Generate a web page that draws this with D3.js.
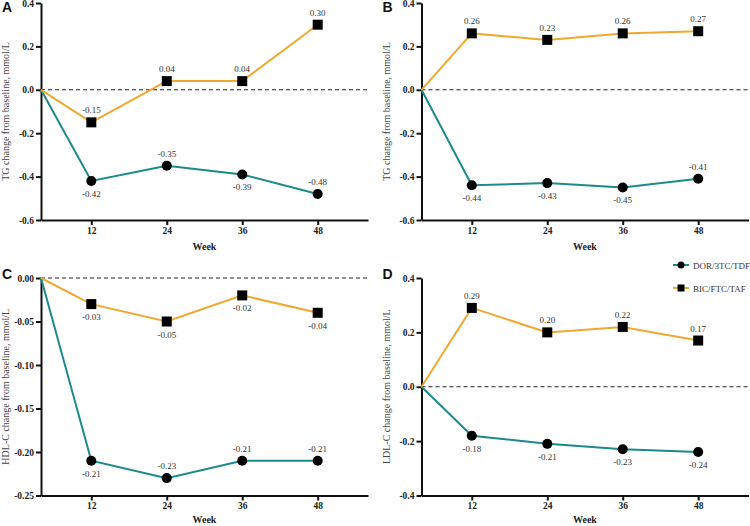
<!DOCTYPE html>
<html>
<head>
<meta charset="utf-8">
<script src="https://cdn.jsdelivr.net/npm/d3@7"></script>
<style>
  body { margin: 0; background: #fff; }
  svg { display: block; }
</style>
</head>
<body>
<div id="chart"></div>
<script>
const weeks = [0, 12, 24, 36, 48]
const tickWeeks = [12, 24, 36, 48]
const seriesNames = ['DOR/3TC/TDF', 'BIC/FTC/TAF']

const panelLetters = ['A', 'B', 'C', 'D']
const yTitles = [
  'TG change from baseline, mmol/L',
  'TG change from baseline, mmol/L',
  'HDL-C change from baseline, mmol/L',
  'LDL-C change from baseline, mmol/L'
]
const yDomains = [[-0.6, 0.4], [-0.6, 0.4], [-0.25, 0], [-0.4, 0.4]]
const yTicks = [
  [-0.6, -0.4, -0.2, 0, 0.2, 0.4],
  [-0.6, -0.4, -0.2, 0, 0.2, 0.4],
  [-0.25, -0.2, -0.15, -0.1, -0.05, 0],
  [-0.4, -0.2, 0, 0.2, 0.4]
]
const yFormats = ['.1f', '.1f', '.2f', '.1f']

const dorValues = [
  [0, -0.42, -0.35, -0.39, -0.48],
  [0, -0.44, -0.43, -0.45, -0.41],
  [0, -0.21, -0.23, -0.21, -0.21],
  [0, -0.18, -0.21, -0.23, -0.24]
]
const bicValues = [
  [0, -0.15, 0.04, 0.04, 0.30],
  [0, 0.26, 0.23, 0.26, 0.27],
  [0, -0.03, -0.05, -0.02, -0.04],
  [0, 0.29, 0.20, 0.22, 0.17]
]
// where each value label sits: a = above the point, b = below
const dorLabelPos = [
  ['b', 'a', 'b', 'a'],
  ['b', 'b', 'b', 'a'],
  ['b', 'a', 'a', 'a'],
  ['b', 'b', 'b', 'b']
]
const bicLabelPos = [
  ['a', 'a', 'a', 'a'],
  ['a', 'a', 'a', 'a'],
  ['b', 'b', 'b', 'b'],
  ['a', 'a', 'a', 'a']
]

const teal = '#1c8a8c'
const orange = '#f0a830'
const serif = "'Liberation Serif', 'Times New Roman', serif"

// plain hyphen for negatives, like the original
const locale = d3.formatLocale({ decimal: '.', thousands: ',', grouping: [3], currency: ['', ''], minus: '-' })

const width = 750
const height = 526
const svg = d3.select('#chart').append('svg')
  .attr('width', width)
  .attr('height', height)

const panels = [
  { x0: 41, x1: 368, y0: 3, y1: 220, weekDy: 30 },
  { x0: 421.5, x1: 748.5, y0: 3, y1: 220, weekDy: 30 },
  { x0: 41, x1: 368, y0: 278, y1: 495.5, weekDy: 27.5 },
  { x0: 421.5, x1: 748.5, y0: 278, y1: 495.5, weekDy: 27.5 }
]

panels.forEach((p, i) => {
  const g = svg.append('g')

  // axis starts at week 4; baseline (week 0) is clamped onto the y axis
  const x = d3.scaleLinear().domain([4, 56]).range([p.x0, p.x1]).clamp(true)
  const y = d3.scaleLinear().domain(yDomains[i]).range([p.y1, p.y0])

  // zero reference line
  g.append('line')
    .attr('x1', p.x0).attr('x2', p.x1)
    .attr('y1', y(0)).attr('y2', y(0))
    .attr('stroke', '#222')
    .attr('stroke-width', 1.1)
    .attr('stroke-dasharray', '4 3')

  const yAxis = g.append('g')
    .attr('transform', `translate(${p.x0},0)`)
    .call(d3.axisLeft(y).tickValues(yTicks[i]).tickFormat(locale.format(yFormats[i])).tickSize(5).tickSizeOuter(0))
  const xAxis = g.append('g')
    .attr('transform', `translate(0,${p.y1})`)
    .call(d3.axisBottom(x).tickValues(tickWeeks).tickSize(5).tickSizeOuter(0))

  ;[yAxis, xAxis].forEach(ax => {
    ax.select('.domain').attr('stroke', '#111').attr('stroke-width', 2)
    ax.selectAll('.tick line').attr('stroke', '#111').attr('stroke-width', 2)
    ax.selectAll('.tick text')
      .attr('font-family', serif)
      .attr('font-weight', 'bold')
      .attr('font-size', '9.5px')
      .attr('fill', '#222')
  })
  yAxis.selectAll('.tick text').attr('x', -7)
  xAxis.selectAll('.tick text').attr('y', 7)

  g.append('text')
    .attr('x', (p.x0 + p.x1) / 2)
    .attr('y', p.y1 + p.weekDy)
    .attr('text-anchor', 'middle')
    .attr('font-family', serif)
    .attr('font-weight', 'bold')
    .attr('font-size', '10px')
    .attr('fill', '#222')
    .text('Week')

  g.append('text')
    .attr('transform', `translate(${p.x0 - 32},${(p.y0 + p.y1) / 2}) rotate(-90)`)
    .attr('text-anchor', 'middle')
    .attr('font-family', serif)
    .attr('font-size', '10px')
    .attr('fill', '#444')
    .text(yTitles[i])

  g.append('text')
    .attr('x', p.x0 - 39)
    .attr('y', p.y0 + (i < 2 ? 9 : 0.5))
    .attr('font-family', "'Liberation Sans', Arial, sans-serif")
    .attr('font-weight', 'bold')
    .attr('font-size', '14px')
    .attr('fill', '#111')
    .text(panelLetters[i])

  const line = d3.line()
    .x(d => x(d.week))
    .y(d => y(d.value))

  const series = [
    { values: dorValues[i], pos: dorLabelPos[i], color: teal, shape: 'circle' },
    { values: bicValues[i], pos: bicLabelPos[i], color: orange, shape: 'square' }
  ]

  series.forEach(s => {
    const pts = weeks.map((w, k) => ({ week: w, value: s.values[k] }))
    g.append('path')
      .attr('d', line(pts))
      .attr('fill', 'none')
      .attr('stroke', s.color)
      .attr('stroke-width', 2)
  })

  series.forEach(s => {
    const pts = weeks.map((w, k) => ({ week: w, value: s.values[k] })).slice(1)
    if (s.shape === 'circle') {
      g.selectAll(null).data(pts).enter().append('circle')
        .attr('cx', d => x(d.week))
        .attr('cy', d => y(d.value))
        .attr('r', 5)
        .attr('fill', '#000')
    } else {
      g.selectAll(null).data(pts).enter().append('rect')
        .attr('x', d => x(d.week) - 5)
        .attr('y', d => y(d.value) - 5)
        .attr('width', 10)
        .attr('height', 10)
        .attr('fill', '#000')
    }
    g.selectAll(null).data(pts).enter().append('text')
      .attr('x', d => x(d.week))
      .attr('y', (d, k) => y(d.value) + (s.pos[k] === 'a' ? -9 : 16))
      .attr('text-anchor', 'middle')
      .attr('font-family', serif)
      .attr('font-size', '9px')
      .attr('fill', '#333')
      .text(d => locale.format('.2f')(d.value))
  })
})

// legend
const legend = svg.append('g').attr('transform', 'translate(673,265)')
seriesNames.forEach((name, k) => {
  const row = legend.append('g').attr('transform', `translate(0,${k * 23})`)
  row.append('line')
    .attr('x1', 0).attr('x2', 16)
    .attr('stroke', k === 0 ? teal : orange)
    .attr('stroke-width', 2)
  if (k === 0) {
    row.append('circle').attr('cx', 8).attr('r', 3.5).attr('fill', '#000')
  } else {
    row.append('rect').attr('x', 4.5).attr('y', -3.5).attr('width', 7).attr('height', 7).attr('fill', '#000')
  }
  row.append('text')
    .attr('x', 20)
    .attr('y', 3.5)
    .attr('font-family', serif)
    .attr('font-size', '9px')
    .attr('fill', '#333')
    .text(name)
})
</script>
</body>
</html>
